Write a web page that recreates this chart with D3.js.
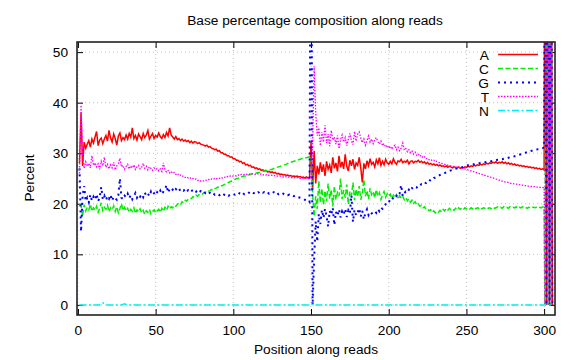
<!DOCTYPE html>
<html><head><meta charset="utf-8">
<script src="https://cdn.jsdelivr.net/npm/d3@7"></script>
<style>
body{margin:0;background:#fff;}
text{font-family:"Liberation Sans",Arial,Helvetica,sans-serif;}
</style></head>
<body><svg id="chart" width="576" height="360"></svg>
<script>
const title = "Base percentage composition along reads";
const xLabel = "Position along reads";
const yLabel = "Percent";
const xTicks = [0, 50, 100, 150, 200, 250, 300];
const yTicks = [0, 10, 20, 30, 40, 50];
const seriesNames = ["A", "C", "G", "T", "N"];

// per-position percentages, positions 1..300
const valuesA = [
28,38,27.5,32.2,31,31.8,32.5,31.2,32.8,32,
33.2,34.3,31.5,32.6,33,31.9,32.8,33.5,32.4,34.5,
33,32.2,33.8,32.9,31.6,33.4,34,32.5,33.1,32.7,
33.6,32.8,33.9,33.2,35,32.9,33.5,32.6,33.8,33.3,
32.7,33.9,33.1,33.6,34.5,32.8,33.4,33.9,32.9,33.5,
33.2,34,33.3,32.9,33.7,33.1,34.1,33.4,35,33.6,
33.2,32.8,33.3,32.7,32.9,32.5,32.8,32.4,32.6,32.3,
32.5,32.1,32.4,32,32.3,32.2,31.9,32.1,31.8,31.7,
31.6,31.4,31.6,31.2,31.3,31,30.9,30.7,30.8,30.4,
30.5,30.1,30.1,29.8,29.8,29.5,29.5,29.2,29.3,28.9,
28.9,28.6,28.6,28.3,28.4,28,28.1,27.7,27.8,27.5,
27.6,27.2,27.3,27,27.1,26.8,26.9,26.6,26.7,26.5,
26.6,26.3,26.4,26.2,26.3,26.1,26.2,25.9,26,25.8,
25.9,25.7,25.8,25.6,25.7,25.5,25.6,25.4,25.5,25.4,
25.5,25.3,25.4,25.2,25.3,25.1,25.3,25.1,25.1,
32.2,
22.8,30.5,24,27.5,25.8,28.2,26.3,27.8,25.5,28.4,
26.8,27.7,26.1,29.2,27,28.1,26.4,29.5,27.2,28.3,
26.9,29.8,27.4,26.5,28.6,27.5,28.8,26.8,28.1,27.6,
29.2,27.1,24.2,28,26.9,28.5,27.5,28.9,27.8,28.2,
27.3,28.7,27.9,29.1,27.6,28.4,27.7,28.8,28.1,27.8,
28.4,27.9,28.9,28.2,27.8,28.5,28.3,28.8,28.1,28.4,
28.2,28.6,27.9,28.4,28.5,28.1,28.4,28.3,28.6,28.2,
28.4,28.1,28.3,27.9,28.2,27.8,28,27.7,27.9,27.6,
27.8,27.5,27.7,27.4,27.5,27.3,27.5,27.2,27.4,27.3,
27.1,27.3,27.2,27.1,27.3,27,27.2,27.1,27.3,27.2,
27.4,27.3,27.5,27.4,27.6,27.5,27.7,27.6,27.8,27.7,
27.9,27.8,28,27.9,28.1,28,28.2,28.1,28.3,28,
28.2,28.1,28.3,28,28.2,27.9,28.1,27.8,28,27.7,
27.9,27.6,27.7,27.5,27.6,27.4,27.5,27.3,27.4,27.2,
27.3,27.1,27.2,27,27.1,26.9,27,26.8,26.9,26.7];

const valuesC = [
20,19.6,17.5,19.8,18.6,19.3,18.8,19.9,18.5,19.2,
18.7,19.5,18.3,19.1,20.2,18.6,19.3,18.9,19.7,18.4,
19.2,18.8,19.6,18.5,19.4,18.2,19,20,18.7,19.3,
18.6,19.1,18.3,18.9,18.5,19.2,18.1,18.8,18.4,19,
18.2,18.7,17.9,18.6,18.3,18.9,18,18.5,18.8,18.2,
18.6,18.9,18.3,19.1,18.5,19.3,18.7,19.5,19,19.4,
19.2,19.7,19.5,19.9,20.1,19.8,20.4,20.2,20.7,20.5,
20.9,21.1,21,21.4,21.3,21.7,21.5,21.8,22,21.9,
22.2,22.3,22.2,22.5,22.6,22.8,22.7,23,23.1,23.3,
23.2,23.5,23.6,23.8,23.9,24.1,24.2,24.4,24.5,24.7,
24.8,25,25,25.2,25.3,25.4,25.5,25.5,25.7,25.7,
25.8,25.9,26,26,26.1,26.2,26.2,26.3,26.4,26.5,
26.5,26.6,26.7,26.8,26.8,27,27.1,27.2,27.3,27.4,
27.5,27.6,27.7,27.8,28,28.1,28.2,28.3,28.4,28.5,
28.6,28.7,28.8,28.9,29,29,29.1,29.2,29.3,
29.4,
22,17.5,21.5,19,24.5,20.2,23,19.8,22.6,20.5,
24,21,22.8,19.5,23.5,20.8,22.2,21.5,25,20.9,
22.7,21.2,23.8,19.9,22.4,21.6,24.2,20.7,22.9,21.4,
23.5,20.8,22.1,24.8,21.5,22.6,20.9,23.1,21.8,22.4,
21.2,22.8,21.5,22.2,20.9,21.8,22.4,21.3,22,21.5,
21.9,21,21.7,21.3,21.8,20.9,21.6,21.1,21.5,20.8,
21.2,20.6,21,20.3,20.7,20.1,20.4,19.8,20,19.5,
19.7,19.2,19.4,18.9,19,18.6,18.8,18.3,18.6,18.2,
18.5,18.3,18.7,18.4,18.9,18.6,19,18.7,19.1,18.8,
19,18.7,19.1,18.8,19.2,18.9,19.1,18.8,19.2,19,
19.1,18.9,19.2,19,19.3,19,19.2,19.1,19.3,19,
19.2,19.1,19.3,19.1,19.2,19,19.3,19.1,19.2,19.4,
19.2,19.3,19.1,19.4,19.2,19.3,19.1,19.4,19.2,19.3,
19.2,19.4,19.1,19.3,19.2,19.4,19.2,19.3,19.1,19.3,
19.2,19.4,19.3,19.2,19.3,19.1,19.3,19.2,19.4,19.3];

const valuesG = [
27,14.5,21.5,23.5,20.5,21.2,20.3,21.8,20.6,21.4,
20.8,21.9,20.5,21.3,23.3,20.9,21.6,20.7,21.5,21,
21.8,20.6,21.4,21.1,20.8,21.7,25,21.2,20.9,21.6,
21.3,22,21.1,21.7,20.9,21.5,22.1,21.2,21.8,21.4,
21.9,21.3,22.2,21.6,22,21.5,22.4,21.8,22.1,21.7,
22.3,22,22.6,21.9,22.4,22.8,23.7,22.2,22.9,22.5,
22.8,22.4,22.9,22.6,23,22.5,22.8,22.6,22.9,22.4,
22.7,22.5,22.8,22.3,22.6,22.4,22.7,22.3,22.5,22.2,
22.4,22.1,22.3,22,22.2,21.9,22.1,21.8,22,21.9,
21.7,21.9,21.6,21.8,21.7,21.9,21.6,21.8,21.7,21.9,
21.8,22,21.8,22.1,21.9,22.2,21.9,22.1,22,22.2,
22,22.3,22.1,22.2,22,22.3,22.1,22.4,22.2,22.3,
22.1,22.3,22,22.2,22.1,22.3,22,22.2,21.9,22.1,
21.9,22,21.8,21.9,21.7,21.8,21.6,21.7,21.5,21.6,
21.4,21.3,21.2,21.1,21,20.8,20.7,20.5,20.3,
100,
0,9,16.5,12.5,18,16,18.8,17.2,19,17.5,
15.5,18.6,17.8,19.2,15.8,18.4,17.6,18.9,17.3,18.5,
17.9,19,17.4,18.7,18.1,21.7,16.4,18.8,17.7,18.3,
19.1,17.5,18.6,16.9,18.2,18.9,17.8,18.4,18.1,18.3,
18.6,18.2,18.9,18.5,19.2,19,19.6,19.9,20.4,20.3,
20.9,20.7,21.3,21.1,21.6,21.4,22,23.7,21.5,22.1,
22.4,22.2,22.8,22.5,23.1,22.9,23.3,23.2,23.6,23.5,
23.9,23.8,24.2,24.1,24.5,24.4,24.8,24.7,25.1,25.2,
25.4,25.5,25.7,25.8,26,26.1,26.2,26.3,26.5,26.6,
26.7,26.8,26.9,27,27.1,27.2,27.2,27.3,27.4,27.5,
27.6,27.6,27.7,27.8,27.8,27.9,28,28,28.1,28.1,
28.2,28.2,28.3,28.3,28.4,28.4,28.5,28.5,28.6,28.7,
28.7,28.8,28.8,28.9,29,29,29.1,29.2,29.2,29.3,
29.4,29.5,29.6,29.7,29.8,29.9,30,30.1,30.2,30.3,
30.4,30.5,30.5,30.6,30.7,30.8,30.8,30.9,31,31.1];

const valuesT = [
26,39.5,30,27,28.3,27.4,28,27.1,29.5,27.6,
28.1,27.3,27.9,26.8,28.4,27.5,29.2,27.2,27.8,26.9,
27.7,27.1,28.2,26.7,27.5,27.9,29,27.3,27.6,26.8,
27.4,27.8,26.9,27.5,27.1,27.7,26.8,27.3,27.6,26.9,
27.2,28,27,27.4,26.7,27.3,27,26.6,27.1,26.8,
27,26.5,26.9,26.4,28.1,26.7,26.3,26.6,26.1,26.4,
26,26.2,25.8,26,25.6,25.7,25.4,25.5,25.2,25.3,
25.1,25.2,24.9,25,24.8,24.9,24.6,24.7,24.5,24.6,
24.5,24.7,24.6,24.8,24.7,24.9,24.8,25,24.9,25.1,
25,25.2,25.1,25.3,25.2,25.4,25.3,25.5,25.4,25.5,
25.6,25.5,25.7,25.6,25.8,25.7,25.8,25.9,25.8,25.9,
25.8,26,25.9,25.8,26,25.9,25.8,25.9,25.7,25.8,
25.7,25.8,25.6,25.7,25.6,25.5,25.6,25.5,25.4,25.5,
25.4,25.3,25.4,25.3,25.2,25.3,25.2,25.1,25.2,25.1,
25.2,25.1,25,25.1,25,25.1,25,24.9,25,
25.5,
31,47.2,38,33.5,35,31.5,34.2,32.2,35.5,32,
33.8,31.4,34.5,32.6,33.2,31.8,33.5,30.9,32.7,33.6,
32.2,33.1,31.5,32.8,33.9,32.5,31.7,34.3,32.4,33.8,
34.2,33,32.1,32.8,31.6,32.5,33.4,32.2,32.8,31.9,
32.7,33.1,32.3,31.8,32.4,31.5,31.9,31.2,31.6,31,
31.4,30.8,31.3,31.6,30.7,31.2,30.5,31,32,30.6,
30.9,30.3,30.7,30.1,30.4,29.8,30.2,29.6,29.9,29.4,
29.6,29.1,29.3,28.9,29,28.7,28.8,28.5,28.6,28.3,
28.4,28.2,28.1,28,27.9,27.8,27.8,27.6,27.6,27.5,
27.4,27.4,27.3,27.2,27.2,27.1,27,27,26.9,26.8,
26.7,26.6,26.5,26.4,26.3,26.2,26.1,26,25.9,25.8,
25.7,25.6,25.5,25.4,25.3,25.2,25.1,25,24.9,24.8,
24.7,24.6,24.5,24.4,24.3,24.3,24.2,24.1,24,24,
23.9,23.9,23.8,23.8,23.7,23.7,23.6,23.6,23.5,23.5,
23.5,23.4,23.4,23.4,23.3,23.3,23.3,23.2,23.2,23.2];

const valuesN = [
0,0,0,0,0,0,0,0,0,0, 0,0,0,0,0.3,0.4,0.2,0,0,0,
0,0,0,0,0,0,0,0,0.1,0.2, 0.1,0,0,0,0,0,0,0,0,0,
0,0,0,0,0,0,0,0,0,0, 0,0,0,0,0,0,0,0,0,0,
0,0,0,0,0,0,0,0,0,0, 0,0,0,0,0,0,0,0,0,0,
0,0,0,0,0,0,0,0,0,0, 0,0,0,0,0,0,0,0,0,0,
0,0,0,0,0,0,0,0,0,0, 0,0,0,0,0,0,0,0,0,0,
0,0,0,0,0,0,0,0,0,0, 0,0,0,0,0,0,0,0,0,0,
0,0,0,0,0,0,0,0,0,0.2, 0.1,0,0,0,0,0,0,0,0,0,
0,0,0,0,0,0,0,0,0,0, 0,0,0,0,0,0,0,0,0,0,
0,0,0,0,0,0,0,0,0,0, 0,0,0,0,0,0,0,0,0,0,
0,0,0,0,0,0,0,0,0,0, 0,0,0,0,0,0,0,0,0,0,
0,0,0,0,0,0,0,0,0,0, 0,0,0,0,0,0,0,0,0,0,
0,0,0,0,0,0,0,0,0,0, 0,0,0,0,0,0,0,0,0,0,
0,0,0,0,0,0,0,0,0,0, 0,0,0,0,0,0,0,0,0,0,
0,0,0,0,0,0,0,0,0,0, 0,0,0,0,0,0,0,0,0,0];

// trailing artefact positions beyond 300
const tailPos = [300.5, 301.5, 302.5, 303.5, 304.5, 305.3];
const tailA = [100, 0, 100, 0, 100, 0];
const tailC = [0, 100, 0, 100, 0, 100];
const tailG = [100, 0, 100, 0, 100, 0];
const tailT = [0, 100, 0, 100, 0, 100];
const tailN = [0, 0, 0, 0, 0, 0];

const seriesValues = [valuesA, valuesC, valuesG, valuesT, valuesN];
const seriesTails = [tailA, tailC, tailG, tailT, tailN];
const colors = ["#ff0000", "#00ee00", "#0000ff", "#ff00ff", "#00eeee"];
const dashes = [null, "5,2.5", "2,4", "1.5,1.5", "7,2.5,2,2.5"];
const widths = [1.5, 1.5, 2, 1.3, 1.5];

const FS = 13.7;
const svg = d3.select("#chart");
const L = 77, R = 555, T = 42, B = 315;
const x = d3.scaleLinear().domain([-0.6, 307]).range([L, R]);
const y = d3.scaleLinear().domain([-2, 52]).range([B, T]);

// grid
const grid = svg.append("g").attr("stroke", "#b0b0b0").attr("stroke-width", 0.8).attr("stroke-dasharray", "1,3");
grid.selectAll("line.gx").data(xTicks).join("line").attr("class", "gx")
  .attr("x1", d => x(d)).attr("x2", d => x(d)).attr("y1", T).attr("y2", B);
grid.selectAll("line.gy").data(yTicks).join("line").attr("class", "gy")
  .attr("y1", d => y(d)).attr("y2", d => y(d)).attr("x1", L).attr("x2", R);

// axes (inward ticks, mirrored)
function styleAxis(g) {
  g.select(".domain").remove();
  g.selectAll("line").attr("stroke", "#000").attr("stroke-width", 1);
  g.selectAll("text").attr("font-family", '"Liberation Sans",Arial,sans-serif').attr("font-size", FS).attr("fill", "#000");
}
svg.append("g").attr("transform", `translate(0,${B})`)
  .call(d3.axisBottom(x).tickValues(xTicks).tickSize(-6).tickPadding(10).tickFormat(d3.format("d"))).call(styleAxis);
svg.append("g").attr("transform", `translate(0,${T})`)
  .call(d3.axisTop(x).tickValues(xTicks).tickSize(-6).tickFormat("")).call(styleAxis);
svg.append("g").attr("transform", `translate(${L},0)`)
  .call(d3.axisLeft(y).tickValues(yTicks).tickSize(-6).tickPadding(9).tickFormat(d3.format("d"))).call(styleAxis);
svg.append("g").attr("transform", `translate(${R},0)`)
  .call(d3.axisRight(y).tickValues(yTicks).tickSize(-6).tickFormat("")).call(styleAxis);

// clip
svg.append("clipPath").attr("id", "clip").append("rect")
  .attr("x", L).attr("y", T).attr("width", R - L).attr("height", B - T);

const line = d3.line().x(d => x(d[0])).y(d => y(d[1]));
const plot = svg.append("g").attr("clip-path", "url(#clip)");
seriesNames.forEach((name, k) => {
  const pts = seriesValues[k].map((v, i) => [i + 1, v])
    .concat(tailPos.map((p, j) => [p, seriesTails[k][j]]));
  const path = plot.append("path").datum(pts)
    .attr("fill", "none").attr("stroke", colors[k]).attr("stroke-width", widths[k])
    .attr("stroke-linejoin", "miter").attr("d", line);
  if (dashes[k]) path.attr("stroke-dasharray", dashes[k]);
});

// frame
svg.append("rect").attr("x", L).attr("y", T).attr("width", R - L).attr("height", B - T)
  .attr("fill", "none").attr("stroke", "#222").attr("stroke-width", 1.6);

// legend
const leg = svg.append("g");
seriesNames.forEach((name, k) => {
  const ly = 54.5 + k * 14;
  leg.append("text").attr("x", 489).attr("y", ly + 5).attr("text-anchor", "end")
    .attr("font-size", FS).text(name);
  const ln = leg.append("line").attr("x1", 498).attr("x2", 538).attr("y1", ly).attr("y2", ly)
    .attr("stroke", colors[k]).attr("stroke-width", widths[k]);
  if (dashes[k]) ln.attr("stroke-dasharray", dashes[k]);
});

// titles
svg.append("text").attr("x", 315).attr("y", 25).attr("text-anchor", "middle").attr("font-size", FS).text(title);
svg.append("text").attr("x", 316).attr("y", 354).attr("text-anchor", "middle").attr("font-size", FS).text(xLabel);
svg.append("text").attr("transform", "translate(34,178) rotate(-90)").attr("text-anchor", "middle").attr("font-size", FS).text(yLabel);
</script></body></html>
